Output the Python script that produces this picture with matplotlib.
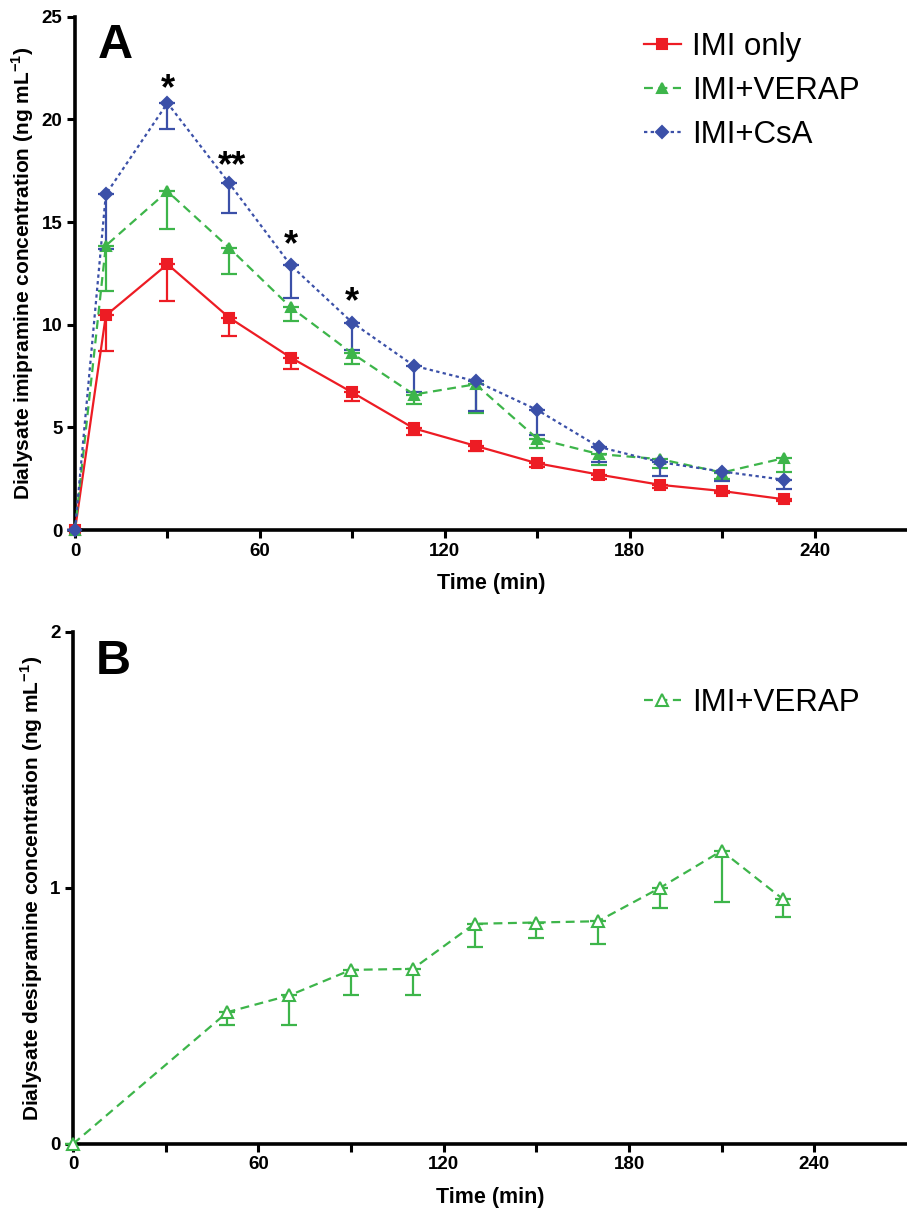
import numpy as np
import matplotlib.pyplot as plt

plt.rcParams["font.family"] = ["Liberation Sans", "DejaVu Sans"]
plt.rcParams["mathtext.fontset"] = "custom"
plt.rcParams["mathtext.rm"] = "Liberation Sans"
plt.rcParams["mathtext.bf"] = "Liberation Sans:bold"

RED = "#ED1C24"
GREEN = "#3DB54A"
BLUE = "#3B50A8"

# time points (min)
time = [0, 10, 30, 50, 70, 90, 110, 130, 150, 170, 190, 210, 230]

# panel A: imipramine, mean and lower end of error bar
imi_only = [0, 10.45, 12.95, 10.35, 8.4, 6.7, 4.95, 4.1, 3.25, 2.7, 2.2, 1.9, 1.5]
imi_only_lo = [0, 8.7, 11.15, 9.45, 7.85, 6.3, 4.65, 3.85, 3.05, 2.5, 2.05, 1.8, 1.4]
imi_verap = [0, 13.85, 16.5, 13.75, 10.85, 8.6, 6.6, 7.1, 4.45, 3.7, 3.45, 2.8, 3.5]
imi_verap_lo = [0, 11.65, 14.65, 12.45, 10.2, 8.1, 6.15, 5.7, 4.0, 3.15, 3.0, 2.5, 2.85]
imi_csa = [0, 16.35, 20.8, 16.9, 12.9, 10.1, 8.0, 7.25, 5.85, 4.05, 3.3, 2.85, 2.45]
imi_csa_lo = [0, 13.7, 19.55, 15.45, 11.3, 8.75, 6.7, 5.8, 4.65, 3.3, 2.65, 2.4, 2.0]

# panel B: desipramine (IMI+VERAP)
desi = [0, None, None, 0.515, 0.58, 0.68, 0.684, 0.86, 0.865, 0.87, 1.0, 1.145, 0.955]
desi_lo = [0, None, None, 0.463, 0.463, 0.58, 0.58, 0.768, 0.804, 0.78, 0.92, 0.946, 0.885]

# significance marks (time, height, label)
stars_x = [30, 51, 70, 90]
stars_y = [20.6, 16.85, 13.0, 10.2]
stars_txt = ["*", "**", "*", "*"]

fig = plt.figure(figsize=(9.07, 12.09), dpi=100)
axA = fig.add_axes([0.0827, 0.5616, 0.9173, 0.4245])
axB = fig.add_axes([0.0805, 0.0538, 0.9195, 0.4235])


def series(ax, x, y, lo, color, ls, marker, label, mfc=None, ms=7.5):
    x = np.array([t for t, v in zip(x, y) if v is not None], float)
    lo = np.array([l for l, v in zip(lo, y) if v is not None], float)
    y = np.array([v for v in y if v is not None], float)
    err = [y - lo, np.zeros_like(y)]
    ax.errorbar(x, y, yerr=err, color=color, ls="none", elinewidth=1.6,
                capsize=6, capthick=1.6, clip_on=False, zorder=2)
    ax.plot(x, y, color=color, ls=ls, lw=1.6, marker=marker, ms=ms,
            mfc=mfc if mfc else color, mec=color, mew=1.5, label=label,
            clip_on=False, zorder=3)


series(axA, time, imi_only, imi_only_lo, RED, "-", "s", "IMI only", ms=7)
series(axA, time, imi_verap, imi_verap_lo, GREEN, (0, (4, 2.5)), "^", "IMI+VERAP")
series(axA, time, imi_csa, imi_csa_lo, BLUE, (0, (1.5, 1.5)), "D", "IMI+CsA", ms=6.5)
series(axB, time, desi, desi_lo, GREEN, (0, (4, 2.5)), "^", "IMI+VERAP", mfc="white", ms=9)

for sx, sy, st in zip(stars_x, stars_y, stars_txt):
    axA.text(sx, sy, st, ha="center", va="bottom", fontsize=26, fontweight="bold")

for ax, top, yt, lab, panel in [
        (axA, 25, [0, 5, 10, 15, 20, 25], "imipramine", "A"),
        (axB, 2, [0, 1, 2], "desipramine", "B")]:
    ax.set_xlim(0, 270)
    ax.set_ylim(0, top)
    ax.set_xticks([0, 60, 120, 180, 240])
    ax.set_xticks([30, 90, 150, 210], minor=True)
    ax.set_yticks(yt)
    ax.tick_params(which="both", direction="out", length=6, width=2.2,
                   labelsize=13.5, pad=3)
    for t in ax.get_xticklabels() + ax.get_yticklabels():
        t.set_fontweight("bold")
    for s in ["top", "right"]:
        ax.spines[s].set_visible(False)
    for s in ["left", "bottom"]:
        ax.spines[s].set_linewidth(2.6)
    ax.set_xlabel("Time (min)", fontsize=15.5, fontweight="bold", labelpad=10)
    ax.set_ylabel("Dialysate " + lab + r" concentration (ng mL$^{\mathbf{-1}}$)",
                  fontsize=15, fontweight="bold", labelpad=4)
    ax.text(0.027, 0.987, panel, transform=ax.transAxes, fontsize=35,
            fontweight="bold", va="top", ha="left")
    ax.patch.set_visible(False)

axA.legend(loc="upper right", bbox_to_anchor=(0.977, 1.025), frameon=False,
           fontsize=22.5, handlelength=1.2, handletextpad=0.35, labelspacing=0.45)
axB.legend(loc="upper right", bbox_to_anchor=(0.977, 0.945), frameon=False,
           fontsize=22.5, handlelength=1.2, handletextpad=0.35)

fig.savefig("out.png", dpi=100)
